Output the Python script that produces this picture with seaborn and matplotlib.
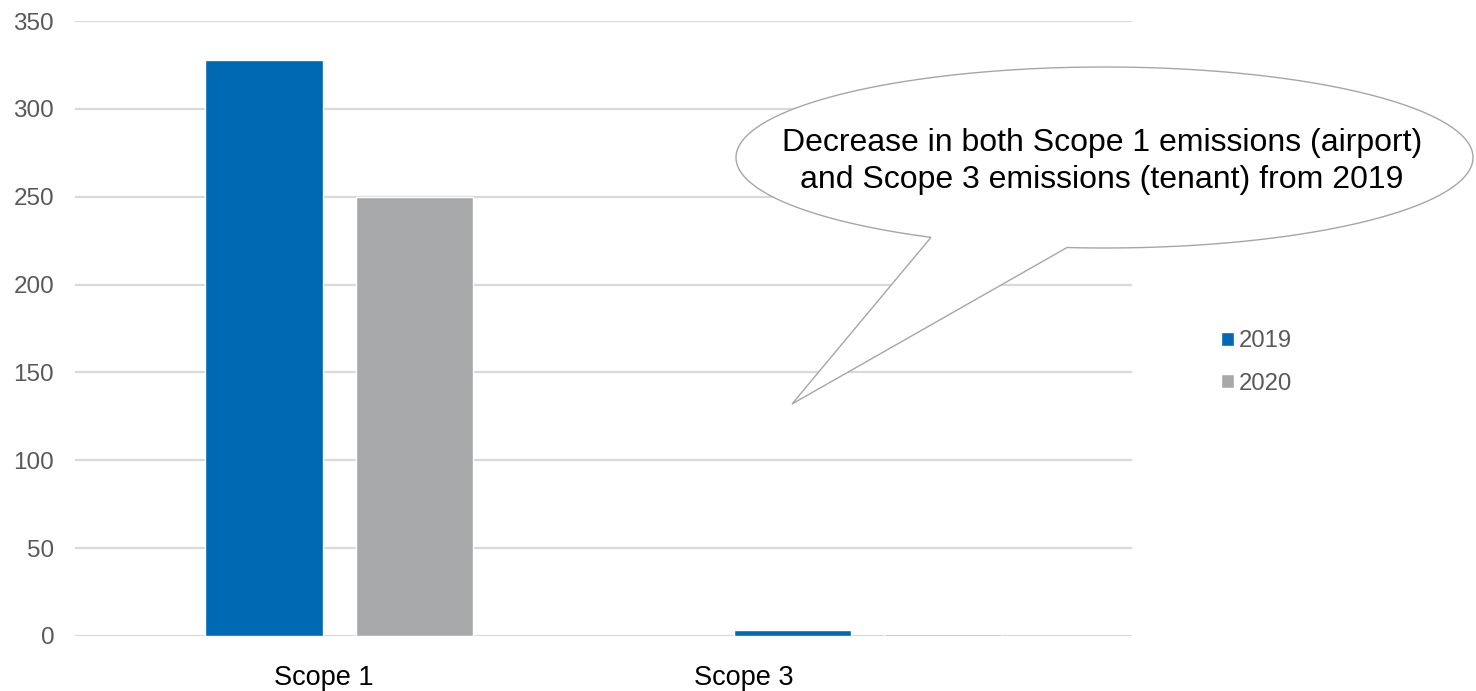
import numpy as np
import pandas as pd
import matplotlib
matplotlib.use("Agg")
import matplotlib.pyplot as plt
from matplotlib.path import Path
from matplotlib.patches import PathPatch
import seaborn as sns

# Emissions by scope and year
scopes = ["Scope 1", "Scope 3"]
years = ["2019", "2020"]
values_2019 = [328, 3.5]
values_2020 = [250, 1]
y_ticks = [0, 50, 100, 150, 200, 250, 300, 350]
callout_lines = ["Decrease in both Scope 1 emissions (airport)",
                 "and Scope 3 emissions (tenant) from 2019"]

BLUE = "#0069B4"
GREY = "#A7A8AA"
TICK_GREY = "#595959"
GRID = "#D9D9D9"

df = pd.DataFrame({
    "scope": scopes * 2,
    "year": [years[0]] * len(scopes) + [years[1]] * len(scopes),
    "value": values_2019 + values_2020,
})

sns.set_theme(style="white")
plt.rcParams["font.family"] = ["Liberation Sans", "DejaVu Sans"]

W, H = 1476, 691
fig = plt.figure(figsize=(W / 100, H / 100), dpi=100)
ax = fig.add_axes([75 / W, (H - 636) / H, (1132 - 75) / W, (636 - 21) / H])

sns.barplot(data=df, x="scope", y="value", hue="year", hue_order=years,
            palette=[BLUE, GREY], saturation=1, width=0.57, gap=0.218,
            ax=ax)

ax.set_xlim(-0.5, 1.5)
ax.set_ylim(0, 350)
ax.set_yticks(y_ticks)
ax.set_yticklabels([str(v) for v in y_ticks])
ax.set_axisbelow(True)
ax.yaxis.grid(True, color=GRID, linewidth=1.6)
ax.xaxis.grid(False)
for s in ax.spines.values():
    s.set_visible(False)
ax.tick_params(axis="y", length=0, pad=15, labelsize=17.5, labelcolor=TICK_GREY)
ax.tick_params(axis="x", length=0, pad=21, labelsize=19.5, labelcolor="black")
ax.set_xticks([-0.03, 0.765])
ax.set_xticklabels(scopes)
ax.set_xlabel("")
ax.set_ylabel("")

# Legend on the right
handles, labels = ax.get_legend_handles_labels()
ax.legend(handles, labels, loc="center left",
          bbox_to_anchor=(1221 / W, 1 - 362.5 / H), bbox_transform=fig.transFigure,
          frameon=False, fontsize=17.2, labelcolor=TICK_GREY,
          handlelength=0.56, handleheight=0.56, handletextpad=0.17,
          labelspacing=0.85, borderpad=0, borderaxespad=0)

# Speech-bubble callout (figure pixel geometry)
cx, cy = 1104.5, H - 157.5
a, b = 368.5, 90.5
base_l_x, base_r_x = 931, 1067
tip = (792, H - 404)
t_r = -np.arccos((base_r_x - cx) / a)
t_l = -np.arccos((base_l_x - cx) / a) + 2 * np.pi
t = np.linspace(t_r, t_l, 400)
pts = np.column_stack([cx + a * np.cos(t), cy + b * np.sin(t)])
pts = np.vstack([pts, tip, pts[0]])
pts_fig = pts / np.array([W, H])
codes = [Path.MOVETO] + [Path.LINETO] * (len(pts_fig) - 2) + [Path.CLOSEPOLY]
bubble = PathPatch(Path(pts_fig, codes), facecolor="white", edgecolor="#A6A6A6",
                   linewidth=1.0, transform=fig.transFigure, zorder=5)
fig.add_artist(bubble)

for line, base_y in zip(callout_lines, [151, 188]):
    fig.text(1102 / W, 1 - base_y / H, line, ha="center", va="baseline",
             fontsize=23, color="black", zorder=6)

fig.savefig("out.png", dpi=100)
